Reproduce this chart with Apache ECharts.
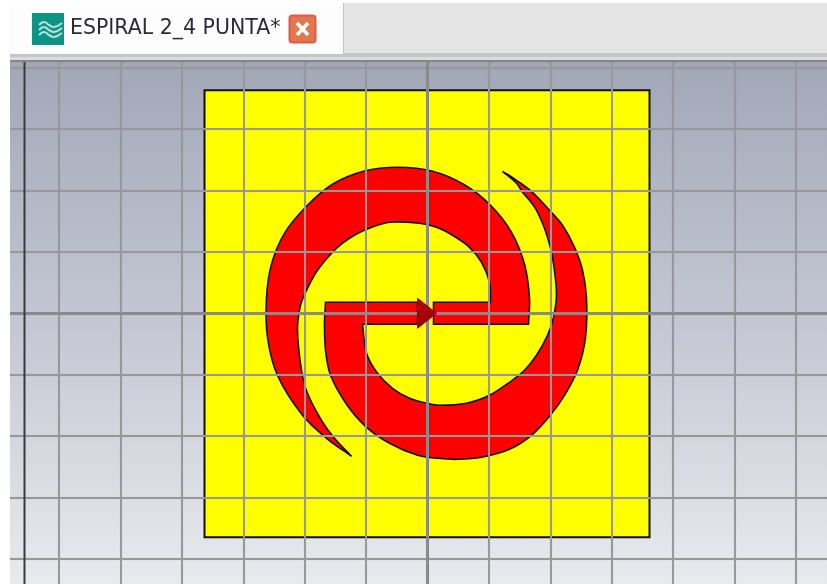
<!DOCTYPE html>
<html>
<head>
<meta charset="utf-8">
<title>ESPIRAL 2_4 PUNTA</title>
<script src="https://cdn.jsdelivr.net/npm/echarts@6/dist/echarts.min.js"></script>
<style>
  html, body { margin: 0; padding: 0; background: #fff; }
  #chart { width: 827px; height: 584px; }
</style>
</head>
<body>
<div id="chart"></div>
<script>
const tabLabel = "ESPIRAL 2_4 PUNTA*";

// working plane, in picture pixels from the origin
const gridStep = 61.4;
const gridCellsX = 7;
const gridCellsY = 5;

const substrate = [[-223, 223], [222, 223], [222, -224], [-223, -224]];

// a repeated vertex keeps a hard corner when the outline is smoothed
const upperArm = [
  [101, -11], [101, -11], [102, 15], [97, 49], [84, 81], [63, 108], [36, 129], [5, 142],
  [-30, 146], [-64, 142], [-95, 129], [-121, 107], [-143, 80], [-156, 49], [-161, 15],
  [-160, -24], [-150, -62], [-125, -102], [-101, -125], [-76, -143], [-76, -143],
  [-93, -125], [-106, -107], [-120, -80], [-126, -57], [-130, -17], [-127, 8], [-121, 23],
  [-110, 43], [-91, 65], [-78, 75], [-61, 84], [-38, 91], [-8, 90], [9, 86], [25, 78],
  [42, 66], [54, 51], [62, 31], [63, 11], [63, 11], [6, 11], [6, 11], [6, -11], [6, -11],
];

const lowerArm = [
  [-102, 11], [-102, 11], [-10, 11], [-10, 11], [-10, -11], [-10, -11], [-65, -11], [-65, -11],
  [-61, -40], [-50, -60], [-35, -75], [-18, -85], [-1, -90], [12, -92], [39, -90], [62, -82],
  [82, -69], [97, -57], [109, -42], [120, -22], [126, -4], [129, 20], [125, 56], [120, 76],
  [115, 90], [109, 103], [102, 113], [95, 121], [89, 130], [75, 142], [75, 142], [89, 133],
  [105, 121], [122, 103], [135, 88], [147, 66], [155, 43], [159, 15], [158, -24], [150, -57],
  [137, -82], [122, -103], [104, -122], [82, -136], [54, -144], [30, -146], [10, -145],
  [-10, -142], [-38, -130], [-62, -113], [-81, -91], [-97, -62], [-102, -37], [-103, -10],
  [-102, 11],
];

const feedPort = [[-10, 15], [9, 0], [-10, -15]];

const boundaryLine = [[-403, 260], [-403, -280]];

function shapeSeries(name, points, fill, stroke, lineWidth, z, smooth) {
  return {
    name,
    type: "custom",
    coordinateSystem: "cartesian2d",
    data: points,
    silent: true,
    z,
    renderItem(params, api) {
      if (params.dataIndex !== 0) {
        return null;
      }
      return {
        type: "polygon",
        shape: { points: points.map((point) => api.coord(point)), smooth },
        style: { fill, stroke, lineWidth },
      };
    },
  };
}

function planeAxis(cells) {
  return {
    type: "value",
    min: -cells * gridStep,
    max: cells * gridStep,
    interval: gridStep,
    z: 5,
    axisLabel: { show: false },
    axisTick: { show: false },
    axisLine: {
      show: true,
      onZero: true,
      lineStyle: { color: "#8a8a8a", width: 3 },
    },
    splitLine: {
      show: true,
      lineStyle: {
        color: "#98989b",
        width: 2,
        shadowColor: "rgba(130, 130, 130, 0.3)",
        shadowBlur: 1,
      },
    },
  };
}

const chart = echarts.init(document.getElementById("chart"), null, { renderer: "canvas" });

chart.setOption({
  animation: false,
  backgroundColor: "#ffffff",
  grid: {
    left: 427.5 - gridCellsX * gridStep,
    top: 313.3 - gridCellsY * gridStep,
    width: 2 * gridCellsX * gridStep,
    height: 2 * gridCellsY * gridStep,
    containLabel: false,
    outerBoundsMode: "none",
  },
  xAxis: planeAxis(gridCellsX),
  yAxis: planeAxis(gridCellsY),
  series: [
    shapeSeries("Substrate", substrate, "#ffff00", "#111111", 2, 2, 0),
    shapeSeries("Upper arm", upperArm, "#ff0000", "#111111", 1.6, 3, 0.33),
    shapeSeries("Lower arm", lowerArm, "#ff0000", "#111111", 1.6, 3, 0.33),
    shapeSeries(
      "Port",
      feedPort,
      {
        type: "linear",
        x: 0,
        y: 0,
        x2: 0,
        y2: 1,
        colorStops: [
          { offset: 0, color: "#b8000e" },
          { offset: 1, color: "#8e0008" },
        ],
      },
      "#a00008",
      1,
      8,
      0,
    ),
    {
      name: "Boundary",
      type: "line",
      data: boundaryLine,
      showSymbol: false,
      silent: true,
      z: 6,
      lineStyle: { color: "#3a3a3e", width: 2 },
    },
  ],
  graphic: {
    elements: [
      {
        type: "rect",
        silent: true,
        z: -10,
        shape: { x: 10, y: 62, width: 817, height: 522 },
        style: {
          fill: {
            type: "linear",
            x: 0,
            y: 0,
            x2: 0,
            y2: 1,
            colorStops: [
              { offset: 0, color: "#a2a7b8" },
              { offset: 0.5, color: "#c4c7d3" },
              { offset: 1, color: "#e9eaee" },
            ],
          },
        },
      },
      // window chrome above the plane
      { type: "rect", silent: true, z: 20, shape: { x: 0, y: 0, width: 10, height: 584 }, style: { fill: "#ffffff" } },
      { type: "rect", silent: true, z: 20, shape: { x: 0, y: 0, width: 827, height: 3 }, style: { fill: "#ffffff" } },
      { type: "rect", silent: true, z: 20, shape: { x: 10, y: 3, width: 817, height: 50 }, style: { fill: "#e4e4e4" } },
      { type: "rect", silent: true, z: 21, shape: { x: 10, y: 53, width: 817, height: 4 }, style: { fill: "#c6c6c6" } },
      { type: "rect", silent: true, z: 21, shape: { x: 10, y: 57, width: 817, height: 3 }, style: { fill: "#dcdcdc" } },
      { type: "rect", silent: true, z: 21, shape: { x: 10, y: 60, width: 817, height: 2 }, style: { fill: "#858588" } },
      { type: "rect", silent: true, z: 22, shape: { x: 10, y: 3, width: 333, height: 51 }, style: { fill: "#fdfdfd" } },
      { type: "rect", silent: true, z: 22, shape: { x: 343, y: 3, width: 1, height: 51 }, style: { fill: "#c4c4c4" } },
      // tab icon
      { type: "rect", silent: true, z: 23, shape: { x: 32, y: 13, width: 32, height: 32 }, style: { fill: "#0d9488" } },
      { type: "polyline", silent: true, z: 24, shape: { points: [[39, 25], [44, 22], [49, 25], [54, 27], [62, 23]], smooth: 0.5 }, style: { fill: "none", stroke: "#b6e0da", lineWidth: 2 } },
      { type: "polyline", silent: true, z: 24, shape: { points: [[39, 30], [44, 27], [49, 30], [54, 32], [62, 28]], smooth: 0.5 }, style: { fill: "none", stroke: "#b6e0da", lineWidth: 2 } },
      { type: "polyline", silent: true, z: 24, shape: { points: [[39, 35], [44, 32], [49, 35], [54, 37], [62, 33]], smooth: 0.5 }, style: { fill: "none", stroke: "#b6e0da", lineWidth: 2 } },
      // tab label
      {
        type: "text",
        silent: true,
        z: 24,
        x: 70,
        y: 29,
        style: {
          text: tabLabel,
          fill: "#2b2b38",
          font: '20.5px "DejaVu Sans", sans-serif',
          verticalAlign: "middle",
        },
      },
      // close button
      { type: "rect", silent: true, z: 23, shape: { x: 289.5, y: 15.5, width: 26, height: 27, r: 3 }, style: { fill: "#e2784e", stroke: "#e05a44", lineWidth: 2 } },
      { type: "line", silent: true, z: 24, shape: { x1: 297, y1: 23, x2: 308, y2: 35 }, style: { stroke: "#ffffff", lineWidth: 3.5 } },
      { type: "line", silent: true, z: 24, shape: { x1: 308, y1: 23, x2: 297, y2: 35 }, style: { stroke: "#ffffff", lineWidth: 3.5 } },
    ],
  },
});
</script>
</body>
</html>
